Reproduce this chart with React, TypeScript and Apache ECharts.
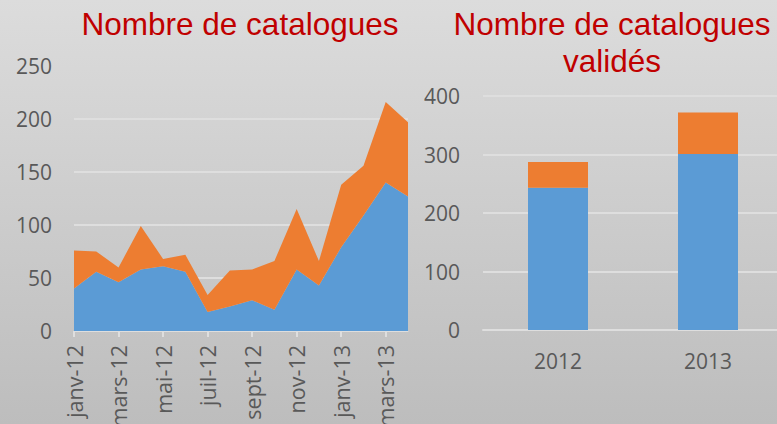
import React, { useEffect, useRef } from "react";
import * as echarts from "echarts";

const months = [
  "janv-12", "févr-12", "mars-12", "avr-12", "mai-12", "juin-12", "juil-12", "août-12",
  "sept-12", "oct-12", "nov-12", "déc-12", "janv-13", "févr-13", "mars-13", "avr-13",
];
const monthlyBlue = [40, 56, 46, 58, 61, 56, 18, 23, 29, 20, 58, 43, 79, 109, 140, 127];
const monthlyOrange = [36, 19, 14, 41, 7, 16, 16, 34, 29, 46, 57, 23, 59, 47, 76, 70];

const years = ["2012", "2013"];
const yearlyBlue = [243, 301];
const yearlyOrange = [44, 71];

const leftTicks = [0, 50, 100, 150, 200, 250];
const rightTicks = [0, 100, 200, 300, 400];

const titleLeft = "Nombre de catalogues";
const titleRight = "Nombre de catalogues\nvalidés";

const BLUE = "#5b9bd5";
const ORANGE = "#ed7d31";
const GRID = "#dedede";
const LABEL = "#595959";
const FONT = "'Open Sans', sans-serif";

export default function App() {
  const ref = useRef<HTMLDivElement>(null);
  useEffect(() => {
    document.body.style.margin = "0";
    const chart = echarts.init(ref.current!, null, { renderer: "svg" });
    const axisLabel = { color: LABEL, fontFamily: FONT, fontSize: 21 };
    chart.setOption({
      animation: false,
      backgroundColor: {
        type: "linear", x: 0, y: 0, x2: 0, y2: 1,
        colorStops: [
          { offset: 0, color: "#dcdcdc" },
          { offset: 1, color: "#bdbdbd" },
        ],
      },
      graphic: [
        {
          type: "text", x: 240, y: 5,
          style: {
            text: titleLeft, fill: "#c00000", font: "31.5px 'Liberation Sans', Arial, sans-serif",
            align: "center", verticalAlign: "top", lineHeight: 37,
          },
        },
        {
          type: "text", x: 612, y: 5,
          style: {
            text: titleRight, fill: "#c00000", font: "31.5px 'Liberation Sans', Arial, sans-serif",
            align: "center", verticalAlign: "top", lineHeight: 37,
          },
        },
      ],
      grid: [
        { left: 74, top: 66, width: 334, height: 265, containLabel: false, outerBoundsMode: "none" },
        { left: 483, top: 96, width: 300, height: 234, containLabel: false, outerBoundsMode: "none" },
      ],
      xAxis: [
        {
          type: "category", gridIndex: 0, data: months, boundaryGap: false,
          axisLine: { lineStyle: { color: GRID, width: 1 } },
          axisTick: { show: true, interval: 1, length: 6, lineStyle: { color: GRID, width: 2 } },
          axisLabel: { ...axisLabel, fontSize: 21.5, interval: 1, rotate: 90, margin: 14 },
          splitLine: { show: false },
        },
        {
          type: "category", gridIndex: 1, data: years,
          axisLine: { lineStyle: { color: GRID, width: 2 } },
          axisTick: { show: false },
          axisLabel: { ...axisLabel, margin: 20 },
        },
      ],
      yAxis: [
        {
          type: "value", gridIndex: 0, min: leftTicks[0], max: leftTicks[leftTicks.length - 1], interval: 50,
          axisLine: { show: false }, axisTick: { show: false },
          axisLabel: { ...axisLabel, margin: 22 },
          splitLine: {
            show: true,
            lineStyle: { color: leftTicks.map((t, i) => (i === leftTicks.length - 1 ? "rgba(0,0,0,0)" : GRID)), width: 2 },
          },
        },
        {
          type: "value", gridIndex: 1, min: rightTicks[0], max: rightTicks[rightTicks.length - 1], interval: 100,
          axisLine: { show: false }, axisTick: { show: false },
          axisLabel: { ...axisLabel, margin: 23 },
          splitLine: { show: true, lineStyle: { color: GRID, width: 2 } },
        },
      ],
      series: [
        {
          type: "line", xAxisIndex: 0, yAxisIndex: 0, stack: "m", data: monthlyBlue,
          symbol: "none", lineStyle: { width: 0 }, areaStyle: { color: BLUE, opacity: 1 }, itemStyle: { color: BLUE },
        },
        {
          type: "line", xAxisIndex: 0, yAxisIndex: 0, stack: "m", data: monthlyOrange,
          symbol: "none", lineStyle: { width: 0 }, areaStyle: { color: ORANGE, opacity: 1 }, itemStyle: { color: ORANGE },
        },
        {
          type: "bar", xAxisIndex: 1, yAxisIndex: 1, stack: "y", data: yearlyBlue, barWidth: 60,
          itemStyle: { color: BLUE },
        },
        {
          type: "bar", xAxisIndex: 1, yAxisIndex: 1, stack: "y", data: yearlyOrange, barWidth: 60,
          itemStyle: { color: ORANGE },
        },
      ],
    });
    return () => chart.dispose();
  }, []);
  return <div ref={ref} style={{ width: 777, height: 424 }} />;
}
